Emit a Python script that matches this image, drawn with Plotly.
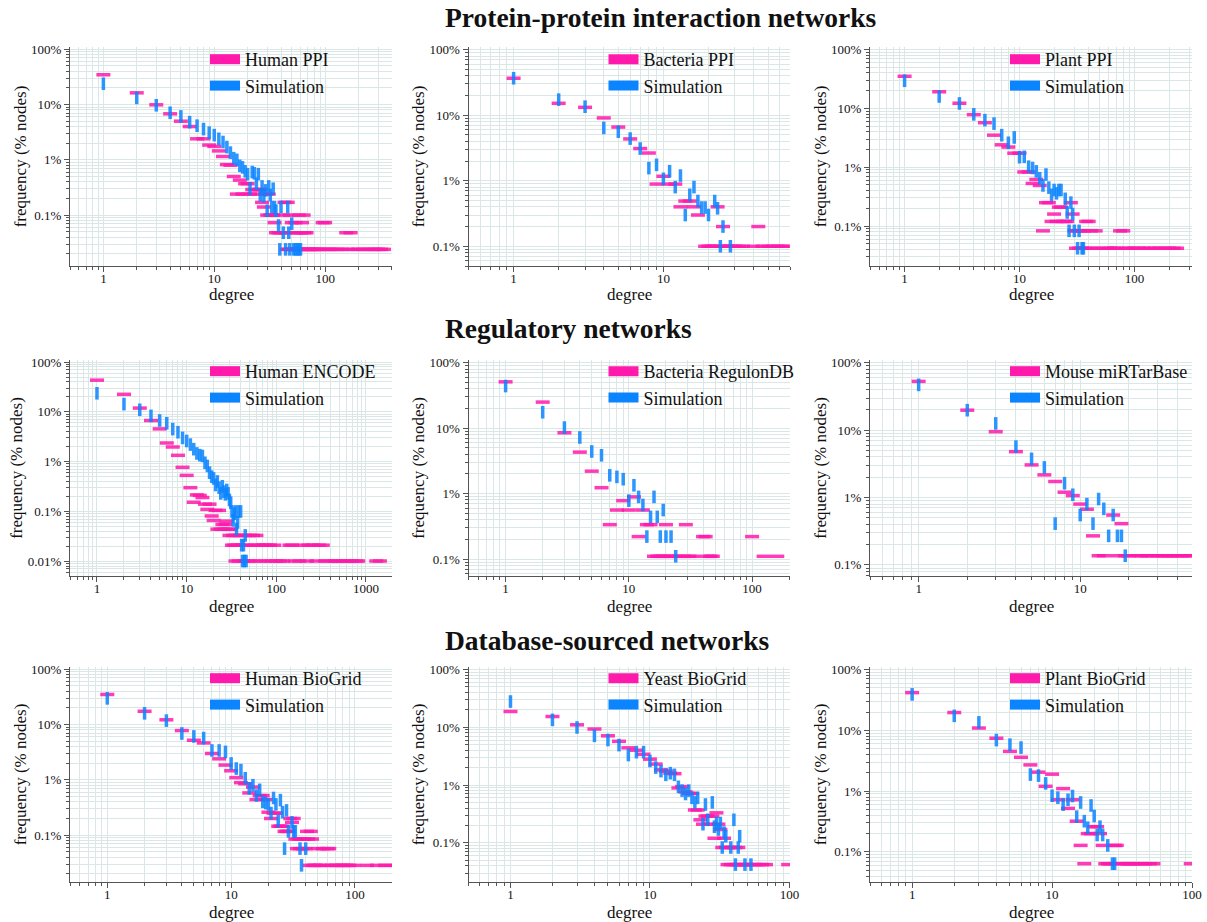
import plotly.graph_objects as go
import math

FONT = "Liberation Serif"
PINK = "#ff1aab"
BLUE = "#0a84ff"
GRID = "#dbe7e7"
AXIS = "#555555"

section_titles = ["Protein-protein interaction networks", "Regulatory networks", "Database-sourced networks"]
network_names = ["Human PPI", "Bacteria PPI", "Plant PPI",
                 "Human ENCODE", "Bacteria RegulonDB", "Mouse miRTarBase",
                 "Human BioGrid", "Yeast BioGrid", "Plant BioGrid"]
sim_name = "Simulation"
x_title = "degree"
y_title = "frequency (% nodes)"

# ---------------- data (degree, % of nodes) ----------------
human_ppi_deg = [1,2,3,4,5,6,7,8,9,10,11,12,13,14,15,16,17,18,19,20,21,22,23,24,25,26,27,28,29,30,31,32,33,34,35,36,38,40,42,43,44,45,46,47,48,49,50,51,52,53,54,55,56,57,58,59,60,62,63,64,65,66,68,70,72,75,78,80,85,90,95,98,100,105,110,120,130,140,155,160,170,180,200,220,240,260,280,300,320,340]
human_ppi_pct = [34.6,16.3,9.9,6.8,5.0,4.0,2.4,2.4,1.85,1.75,1.45,1.15,0.82,0.80,0.50,0.24,0.43,0.24,0.37,0.37,0.24,0.29,0.24,0.29,0.29,0.29,0.17,0.14,0.24,0.10,0.24,0.10,0.10,0.10,0.073,0.048,0.048,0.048,0.10,0.17,0.048,0.024,0.17,0.024,0.10,0.024,0.073,0.024,0.048,0.024,0.073,0.024,0.048,0.024,0.10,0.024,0.048,0.073,0.024,0.10,0.048,0.024,0.048,0.024,0.024,0.024,0.024,0.024,0.024,0.024,0.073,0.024,0.073,0.024,0.024,0.024,0.024,0.024,0.048,0.024,0.048,0.024,0.024,0.024,0.024,0.024,0.024,0.024,0.024,0.024]
human_ppi_sim_deg = [1,2,3,4,5,6,7,8,9,10,11,12,13,14,15,16,17,18,19,20,21,22,23,24,25,26,27,28,29,30,31,32,33,34,35,36,38,39,40,42,44,46,47,48,50,52,54,56,58,60]
human_ppi_sim_pct = [23.8,13.2,9.7,7.1,6.1,4.8,4.15,3.6,3.1,2.8,2.4,2.1,1.7,1.35,1.07,1.0,0.78,0.73,0.62,0.55,0.30,0.60,0.57,0.37,0.55,0.23,0.33,0.22,0.28,0.12,0.33,0.23,0.14,0.30,0.14,0.12,0.065,0.024,0.14,0.048,0.024,0.14,0.048,0.024,0.07,0.024,0.024,0.024,0.024,0.024]

bact_ppi_deg = [1,2,3,4,5,6,7,8,9,10,11,12,13,14,15,16,17,19,20,21,22,23,24,25,26,27,28,30,32,34,40,43,46,50,54,58,62,66]
bact_ppi_pct = [36.7,15.2,13.2,9.1,6.6,4.35,3.1,2.65,0.89,1.17,0.89,0.89,0.40,0.49,0.49,0.40,0.30,0.1,0.1,0.1,0.1,0.40,0.1,0.2,0.1,0.1,0.1,0.1,0.1,0.1,0.1,0.2,0.1,0.1,0.1,0.1,0.1,0.1]
bact_ppi_sim_deg = [1,2,3,4,5,6,7,8,9,10,11,12,13,14,15,16,17,18,19,20,22,23,24,25,28]
bact_ppi_sim_pct = [36.7,17.3,13.5,6.4,5.6,4.4,3.1,1.56,1.75,1.07,1.4,0.8,1.2,0.30,0.61,0.8,0.49,0.39,0.39,0.30,0.49,0.38,0.1,0.2,0.1]

plant_ppi_deg = [1,2,3,4,5,6,7,8,9,10,11,12,13,14,15,16,17,18,19,20,21,22,23,24,25,26,28,29,30,31,32,33,34,35,36,37,38,40,42,44,46,48,58,62,66,70,75,80,85,90,100,110,120,135,150,165,180,200,220,235]
plant_ppi_pct = [35,19.1,12.2,7.8,5.7,3.5,2.4,2.2,1.73,1.73,0.83,0.83,0.53,0.62,0.49,0.083,0.25,0.25,0.12,0.16,0.12,0.21,0.21,0.12,0.12,0.12,0.25,0.16,0.083,0.042,0.083,0.042,0.083,0.042,0.083,0.042,0.12,0.12,0.083,0.042,0.083,0.042,0.042,0.042,0.042,0.042,0.083,0.083,0.042,0.042,0.042,0.042,0.042,0.042,0.042,0.042,0.042,0.042,0.042,0.042]
plant_ppi_sim_deg = [1,2,3,4,5,6,7,8,9,10,11,12,13,14,15,16,17,18,19,20,21,22,23,25,26,27,28,29,30,32,33,35,36]
plant_ppi_sim_pct = [29.4,15.9,12.1,7.9,6.3,5.5,3.5,2.6,3.2,1.48,1.5,1.02,0.97,0.85,0.65,0.49,0.75,0.45,0.34,0.41,0.36,0.41,0.41,0.29,0.17,0.083,0.25,0.16,0.083,0.042,0.083,0.042,0.042]

encode_deg = [1,2,3,4,5,6,7,8,9,10,11,12,13,14,15,16,17,18,19,20,21,22,23,24,25,26,27,28,29,30,31,32,33,34,35,36,37,38,40,42,44,45,46,48,50,52,55,58,60,63,65,70,75,78,85,90,95,100,110,120,140,150,160,180,200,220,230,260,280,300,330,350,400,450,500,560,620,700,780,820,1300,1430]
encode_pct = [43.3,22.5,11.9,6.7,4.55,2.37,1.97,1.34,0.77,0.53,0.30,0.153,0.215,0.21,0.19,0.14,0.11,0.14,0.081,0.066,0.105,0.044,0.105,0.044,0.055,0.044,0.055,0.064,0.044,0.033,0.044,0.021,0.033,0.021,0.0101,0.033,0.021,0.0101,0.033,0.021,0.0101,0.033,0.021,0.0101,0.033,0.0101,0.033,0.021,0.033,0.021,0.0101,0.021,0.0101,0.021,0.021,0.0101,0.021,0.0101,0.0101,0.0101,0.021,0.021,0.0101,0.0101,0.021,0.0101,0.021,0.021,0.0101,0.021,0.021,0.0101,0.0101,0.0101,0.0101,0.0101,0.0101,0.0101,0.0101,0.0101,0.0101,0.0101]
encode_sim_deg = [1,2,3,4,5,6,7,8,9,10,11,12,13,14,15,16,17,18,19,20,21,22,23,24,25,26,27,28,29,30,31,32,33,34,35,36,37,38,40,41,42,43,44,45,46]
encode_sim_pct = [23.6,14.3,11.0,8.3,6.7,5.9,4.5,3.9,3.0,2.6,2.2,1.78,1.46,1.35,1.3,0.95,0.82,0.6,0.5,0.46,0.34,0.4,0.3,0.23,0.32,0.25,0.22,0.27,0.23,0.17,0.15,0.1,0.066,0.09,0.1,0.044,0.06,0.1,0.1,0.021,0.0101,0.021,0.0101,0.033,0.0101]

regulon_deg = [1,2,3,4,5,6,7,8,9,10,11,12,13,14,15,16,17,18,19,20,21,22,24,26,28,29,31,34,40,42,44,46,48,100,124,160]
regulon_pct = [51,25,8.5,4.3,2.2,1.23,0.335,0.56,0.78,0.56,0.89,0.22,0.56,0.335,0.335,0.11,0.11,0.11,0.11,0.335,0.11,0.11,0.11,0.11,0.11,0.335,0.11,0.11,0.22,0.22,0.11,0.11,0.11,0.22,0.11,0.11]
regulon_sim_deg = [1,2,3,4,5,6,7,8,9,10,11,12,13,14,15,16,17,18,19,20,22,24]
regulon_sim_pct = [44,17.5,10.2,7.2,4.4,3.85,1.9,1.8,1.66,0.78,1.34,0.89,0.67,0.22,0.44,0.89,0.44,0.22,0.56,0.22,0.22,0.11]

mirtar_deg = [1,2,3,4,5,6,7,8,9,10,11,12,13,14,16,17,18,19,20,23,24,26,28,30,32,34,36,38,40,43,46,48]
mirtar_pct = [53,19.8,9.5,4.8,3.05,2.17,1.73,1.2,1.07,0.8,0.67,0.27,0.137,0.137,0.55,0.137,0.41,0.137,0.137,0.137,0.137,0.137,0.137,0.137,0.137,0.137,0.137,0.137,0.137,0.137,0.137,0.137]
mirtar_sim_deg = [1,2,3,4,5,6,7,8,9,10,11,12,13,14,15,16,17,18,19]
mirtar_sim_pct = [47,19.8,12.6,5.7,3.75,2.8,0.41,1.63,1.1,0.55,0.8,0.41,0.95,0.68,0.27,0.55,0.27,0.27,0.137]

human_bg_deg = [1,2,3,4,5,6,7,8,9,10,11,12,13,14,15,16,17,18,19,20,21,22,23,24,25,26,27,28,29,30,31,32,33,34,35,36,37,38,39,40,41,42,43,44,45,46,48,50,52,55,58,60,62,65,70,75,80,85,90,97,125,150,175,195]
human_bg_pct = [35,17.4,12.2,7.8,5.2,4.65,3.0,2.4,1.85,1.46,1.1,0.89,0.85,0.58,0.74,0.44,0.52,0.52,0.44,0.26,0.2,0.25,0.25,0.145,0.145,0.145,0.117,0.117,0.117,0.2,0.17,0.2,0.085,0.057,0.085,0.057,0.085,0.057,0.085,0.057,0.117,0.085,0.0284,0.117,0.085,0.0284,0.0284,0.057,0.0284,0.057,0.0284,0.057,0.057,0.0284,0.0284,0.0284,0.0284,0.0284,0.0284,0.0284,0.0284,0.0284,0.0284,0.0284]
human_bg_sim_deg = [1,2,3,4,5,6,7,8,9,10,11,12,13,14,15,16,17,18,19,20,21,22,23,24,25,26,27,28,29,31,32,33,36,37,40]
human_bg_sim_pct = [29.8,16,11.8,6.9,6.1,5.7,3.4,3.4,3.2,1.98,1.6,1.5,1.07,0.7,0.8,0.52,0.66,0.4,0.38,0.36,0.25,0.47,0.36,0.18,0.43,0.26,0.057,0.28,0.117,0.17,0.117,0.117,0.057,0.0284,0.057]

yeast_bg_deg = [1,2,3,4,5,6,7,8,9,10,11,12,13,14,15,16,17,18,19,20,21,22,23,24,25,26,27,28,29,30,31,32,33,34,35,36,37,38,39,40,41,42,43,44,46,48,50,53,56,60,64,68,98]
yeast_bg_pct = [18.7,15.3,11.0,9.3,7.1,5.7,4.4,4.0,3.4,2.8,2.3,1.83,1.74,1.6,1.57,0.89,0.94,0.76,0.72,0.71,0.37,0.37,0.25,0.21,0.29,0.29,0.21,0.29,0.12,0.33,0.21,0.17,0.083,0.12,0.083,0.042,0.083,0.042,0.083,0.042,0.083,0.042,0.083,0.042,0.042,0.042,0.042,0.042,0.042,0.042,0.042,0.042,0.042]
yeast_bg_sim_deg = [1,2,3,4,5,6,7,8,9,10,11,12,13,14,15,16,17,18,19,20,21,22,24,25,26,28,29,30,31,32,33,34,35,38,40,41,43,44,48,53]
yeast_bg_sim_pct = [27.8,13.4,9.9,7.1,6.0,4.9,3.3,3.7,3.7,2.6,2.0,1.74,1.5,1.6,1.5,0.93,0.8,0.7,0.8,0.6,0.5,0.6,0.21,0.46,0.25,0.5,0.19,0.22,0.17,0.22,0.083,0.15,0.13,0.083,0.25,0.042,0.083,0.13,0.042,0.042]

plant_bg_deg = [1,2,3,4,5,6,7,8,9,10,11,12,13,14,15,16,17,18,19,20,21,22,23,24,25,26,28,29,30,32,34,36,38,40,43,46,50,53,98]
plant_bg_pct = [41.7,19.6,10.9,7.4,4.5,3.6,2.7,2.05,1.2,1.9,0.72,1.1,0.52,0.72,0.32,0.128,0.064,0.2,0.2,0.26,0.26,0.2,0.128,0.064,0.064,0.064,0.128,0.128,0.064,0.064,0.064,0.064,0.064,0.064,0.064,0.064,0.064,0.064,0.064]
plant_bg_sim_deg = [1,2,3,4,5,6,7,8,9,10,11,12,13,14,15,16,17,18,19,20,21,22,23,25,27,28]
plant_bg_sim_pct = [39,17.3,13.5,6.9,5.8,5.2,1.87,1.8,1.34,0.84,0.78,0.6,0.72,0.83,0.38,0.65,0.32,0.25,0.58,0.39,0.19,0.26,0.19,0.128,0.064,0.064]

real_series = [(human_ppi_deg, human_ppi_pct), (bact_ppi_deg, bact_ppi_pct), (plant_ppi_deg, plant_ppi_pct),
               (encode_deg, encode_pct), (regulon_deg, regulon_pct), (mirtar_deg, mirtar_pct),
               (human_bg_deg, human_bg_pct), (yeast_bg_deg, yeast_bg_pct), (plant_bg_deg, plant_bg_pct)]
sim_series = [(human_ppi_sim_deg, human_ppi_sim_pct), (bact_ppi_sim_deg, bact_ppi_sim_pct), (plant_ppi_sim_deg, plant_ppi_sim_pct),
              (encode_sim_deg, encode_sim_pct), (regulon_sim_deg, regulon_sim_pct), (mirtar_sim_deg, mirtar_sim_pct),
              (human_bg_sim_deg, human_bg_sim_pct), (yeast_bg_sim_deg, yeast_bg_sim_pct), (plant_bg_sim_deg, plant_bg_sim_pct)]
x_max = [401, 70, 317, 1950, 203, 49.2, 199, 101, 100]

x_major = [1, 10, 100, 1000]
y_major = [100, 10, 1, 0.1, 0.01]
y_major_text = ["100%", "10%", "1%", "0.1%", "0.01%"]

# ---------------- layout geometry (pixels) ----------------
W, H = 1207, 922
col_px = [(70, 392), (468.5, 790), (870, 1192)]
row_px = [(47, 266), (360, 576), (667, 882)]
title_px = [17, 328, 640]
title_left_px = 443
xtitle_px = [294, 606, 912]
legend_top_px = [41, 353, 660]


def minor_vals(lo, hi):
    vals = []
    for k in range(-5, 5):
        for d in range(2, 10):
            v = d * 10 ** k
            if lo <= v <= hi:
                vals.append(v)
    return vals


fig = go.Figure()
layout = dict(width=W, height=H, margin=dict(l=0, r=0, t=0, b=0, autoexpand=False),
              paper_bgcolor="white", plot_bgcolor="white",
              font=dict(family=FONT, color="#111"), showlegend=True)
annotations = []

for i in range(9):
    r, c = divmod(i, 3)
    ax = "" if i == 0 else str(i + 1)
    xa, ya = "x" + ax, "y" + ax
    x0, x1 = col_px[c]
    ytop, ybot = row_px[r]
    rd, rp = real_series[i]
    sd, sp = sim_series[i]
    ymin = min(min(rp), min(sp)) / 2
    ymax = 110
    xmin = 0.5
    xmax = x_max[i]
    leg = "legend" if i == 0 else "legend" + str(i + 1)

    fig.add_trace(go.Scatter(x=rd, y=rp, mode="markers", xaxis=xa, yaxis=ya, showlegend=False,
                             name=network_names[i],
                             marker=dict(symbol="line-ew", size=10, opacity=0.85,
                                         line=dict(color=PINK, width=3.5)), hoverinfo="x+y+name"))
    fig.add_trace(go.Scatter(x=sd, y=sp, mode="markers", xaxis=xa, yaxis=ya, showlegend=False,
                             name=sim_name,
                             marker=dict(symbol="line-ns", size=9, opacity=0.85,
                                         line=dict(color=BLUE, width=3.5)), hoverinfo="x+y+name"))
    fig.add_trace(go.Scatter(x=[None], y=[None], mode="lines", xaxis=xa, yaxis=ya, legend=leg,
                             name=network_names[i], line=dict(color=PINK, width=13)))
    fig.add_trace(go.Scatter(x=[None], y=[None], mode="lines", xaxis=xa, yaxis=ya, legend=leg,
                             name=sim_name, line=dict(color=BLUE, width=13)))

    xt = [v for v in x_major if xmin <= v <= xmax]
    layout["xaxis" + ax] = dict(
        type="log", range=[math.log10(xmin), math.log10(xmax)], automargin=False,
        domain=[x0 / W, x1 / W], anchor=ya,
        tickmode="array", tickvals=xt, ticktext=[str(v) for v in xt],
        ticks="outside", ticklen=5, tickcolor=AXIS, tickwidth=1, ticklabelstandoff=-5,
        showline=True, linecolor=AXIS, linewidth=1,
        showgrid=True, gridcolor=GRID, gridwidth=1, zeroline=False,
        tickfont=dict(family=FONT, size=13, color="#111"),
        minor=dict(tickmode="array", tickvals=minor_vals(xmin, xmax) + [0.5], ticks="outside",
                   ticklen=3, tickcolor=AXIS, showgrid=True, gridcolor=GRID, gridwidth=1),
    )
    yt = [v for v in y_major if ymin <= v <= ymax]
    layout["yaxis" + ax] = dict(
        type="log", range=[math.log10(ymin), math.log10(ymax)], automargin=False,
        domain=[1 - ybot / H, 1 - ytop / H], anchor=xa,
        tickmode="array", tickvals=yt, ticktext=[y_major_text[y_major.index(v)] for v in yt],
        ticks="outside", ticklen=5, tickcolor=AXIS, tickwidth=1,
        showline=True, linecolor=AXIS, linewidth=1,
        showgrid=True, gridcolor=GRID, gridwidth=1, zeroline=False,
        tickfont=dict(family=FONT, size=13, color="#111"),
        minor=dict(tickmode="array", tickvals=minor_vals(ymin, ymax), ticks="outside",
                   ticklen=3, tickcolor=AXIS, showgrid=True, gridcolor=GRID, gridwidth=1),
        title=dict(text=y_title, font=dict(family=FONT, size=17, color="#111"), standoff=0),
    )
    annotations.append(dict(text=x_title, x=(x0 + x1) / 2 / W, xref="paper",
                            y=1 - xtitle_px[r] / H, yref="paper", xanchor="center", yanchor="middle",
                            showarrow=False, font=dict(family=FONT, size=17, color="#111")))
    layout[leg] = dict(x=(x0 + 135) / W, y=1 - legend_top_px[r] / H, xanchor="left", yanchor="top",
                       bgcolor="rgba(255,255,255,0)", font=dict(family=FONT, size=18, color="#111"),
                       tracegroupgap=0, itemwidth=30)

for k, t in enumerate(section_titles):
    annotations.append(dict(text="<b>" + t + "</b>", x=title_left_px / W, xref="paper",
                            y=1 - title_px[k] / H, yref="paper",
                            xanchor="left", yanchor="middle", showarrow=False,
                            font=dict(family=FONT, size=27.5, color="#111")))
layout["annotations"] = annotations
fig.update_layout(**layout)
fig.write_html("out.html")
